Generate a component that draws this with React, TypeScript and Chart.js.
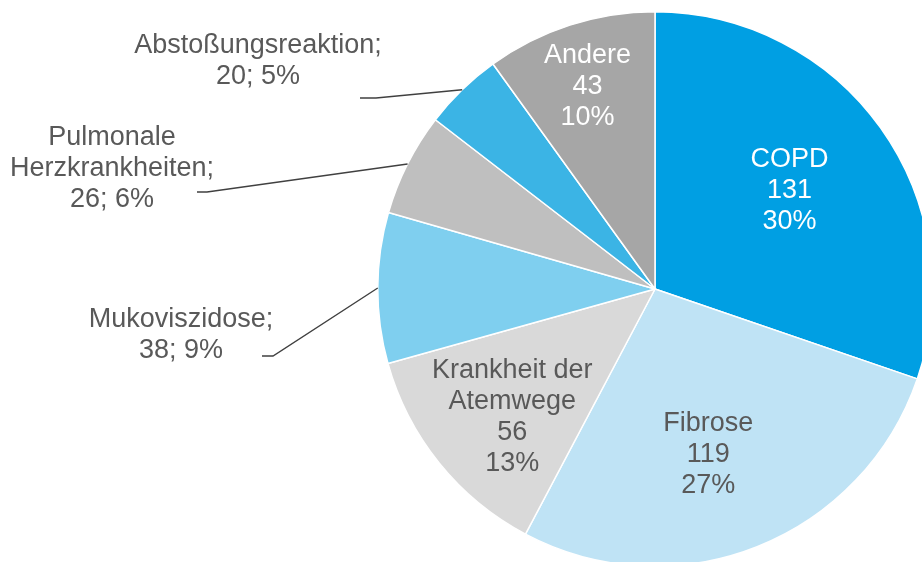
import React, { useEffect, useRef } from "react";
import { Chart, registerables } from "chart.js";

Chart.register(...registerables);

const categories = [
  "COPD",
  "Fibrose",
  "Krankheit der Atemwege",
  "Mukoviszidose",
  "Pulmonale Herzkrankheiten",
  "Abstoßungsreaktion",
  "Andere",
];
const values = [131, 119, 56, 38, 26, 20, 43];
const sliceColors = ["#009FE3", "#BFE3F5", "#D9D9D9", "#7FCFEF", "#BFBFBF", "#3BB4E5", "#A6A6A6"];
const labelNameLines = [
  ["COPD"],
  ["Fibrose"],
  ["Krankheit der", "Atemwege"],
  ["Mukoviszidose;"],
  ["Pulmonale", "Herzkrankheiten;"],
  ["Abstoßungsreaktion;"],
  ["Andere"],
];

// label placement style per slice
type LabelStyle =
  | { mode: "inside"; r: number; dx: number; dy: number; color: string }
  | { mode: "outside"; tx: number; ty: number; sx: number; sy: number; ex: number; ey: number; color: string };

const labelStyles: LabelStyle[] = [
  { mode: "inside", r: 0.61, dx: -3, dy: 0, color: "#FFFFFF" },
  { mode: "inside", r: 0.62, dx: -10, dy: 6, color: "#595959" },
  { mode: "inside", r: 0.68, dx: 4, dy: 10, color: "#595959" },
  { mode: "outside", tx: -474, ty: 46, sx: -393, sy: 67, ex: -382, ey: 67, color: "#595959" },
  { mode: "outside", tx: -543, ty: -120, sx: -458, sy: -97, ex: -448, ey: -97, color: "#595959" },
  { mode: "outside", tx: -397, ty: -228, sx: -295, sy: -191, ex: -279, ey: -191, color: "#595959" },
  { mode: "inside", r: 0.77, dx: -2, dy: 1, color: "#FFFFFF" },
];

const FONT_SIZE = 27;
const LINE_H = 31;

const labelPlugin = {
  id: "pieLabels",
  afterDatasetsDraw(chart: any) {
    const ctx = chart.ctx;
    const meta = chart.getDatasetMeta(0);
    const total = values.reduce((a, b) => a + b, 0);
    ctx.save();
    ctx.font = `${FONT_SIZE}px "Liberation Sans", Arial, sans-serif`;
    ctx.textAlign = "center";
    ctx.textBaseline = "middle";
    meta.data.forEach((arc: any, i: number) => {
      const { x, y, startAngle, endAngle, outerRadius } = arc.getProps(
        ["x", "y", "startAngle", "endAngle", "outerRadius"],
        true
      );
      const mid = (startAngle + endAngle) / 2;
      const pct = Math.round((values[i] / total) * 100);
      const st = labelStyles[i];
      let lines: string[];
      let cx: number;
      let cy: number;
      if (st.mode === "inside") {
        lines = [...labelNameLines[i], String(values[i]), `${pct}%`];
        cx = x + Math.cos(mid) * outerRadius * st.r + st.dx;
        cy = y + Math.sin(mid) * outerRadius * st.r + st.dy;
      } else {
        const nm = labelNameLines[i];
        lines = [...nm, `${values[i]}; ${pct}%`];
        cx = x + st.tx;
        cy = y + st.ty;
        const px = x + Math.cos(mid) * outerRadius;
        const py = y + Math.sin(mid) * outerRadius;
        ctx.strokeStyle = "#404040";
        ctx.lineWidth = 1.4;
        ctx.beginPath();
        ctx.moveTo(x + st.sx, y + st.sy);
        ctx.lineTo(x + st.ex, y + st.ey);
        ctx.lineTo(px, py);
        ctx.stroke();
      }
      ctx.fillStyle = st.color;
      const n = lines.length;
      lines.forEach((ln, k) => {
        ctx.fillText(ln, cx, cy + (k - (n - 1) / 2) * LINE_H);
      });
    });
    ctx.restore();
  },
};

export default function App() {
  const ref = useRef<HTMLCanvasElement | null>(null);
  useEffect(() => {
    if (!ref.current) return;
    const chart = new Chart(ref.current, {
      type: "pie",
      data: {
        labels: categories,
        datasets: [
          {
            data: values,
            backgroundColor: sliceColors,
            borderColor: "#FFFFFF",
            borderWidth: 1.5,
            hoverOffset: 0,
            offset: 0,
          },
        ],
      },
      options: {
        animation: false,
        responsive: false,
        devicePixelRatio: 1,
        events: [],
        layout: { padding: { left: 376, right: 66, top: 11, bottom: 53 } },
        plugins: {
          legend: { display: false },
          tooltip: { enabled: false },
        },
      },
      plugins: [labelPlugin],
    });
    return () => chart.destroy();
  }, []);
  return (
    <div
      style={{
        position: "fixed",
        left: 0,
        top: 0,
        width: 922,
        height: 562,
        overflow: "hidden",
        background: "#FFFFFF",
      }}
    >
      <canvas
        ref={ref}
        width={1000}
        height={620}
        style={{ position: "absolute", left: 0, top: 0, width: 1000, height: 620 }}
      />
    </div>
  );
}
